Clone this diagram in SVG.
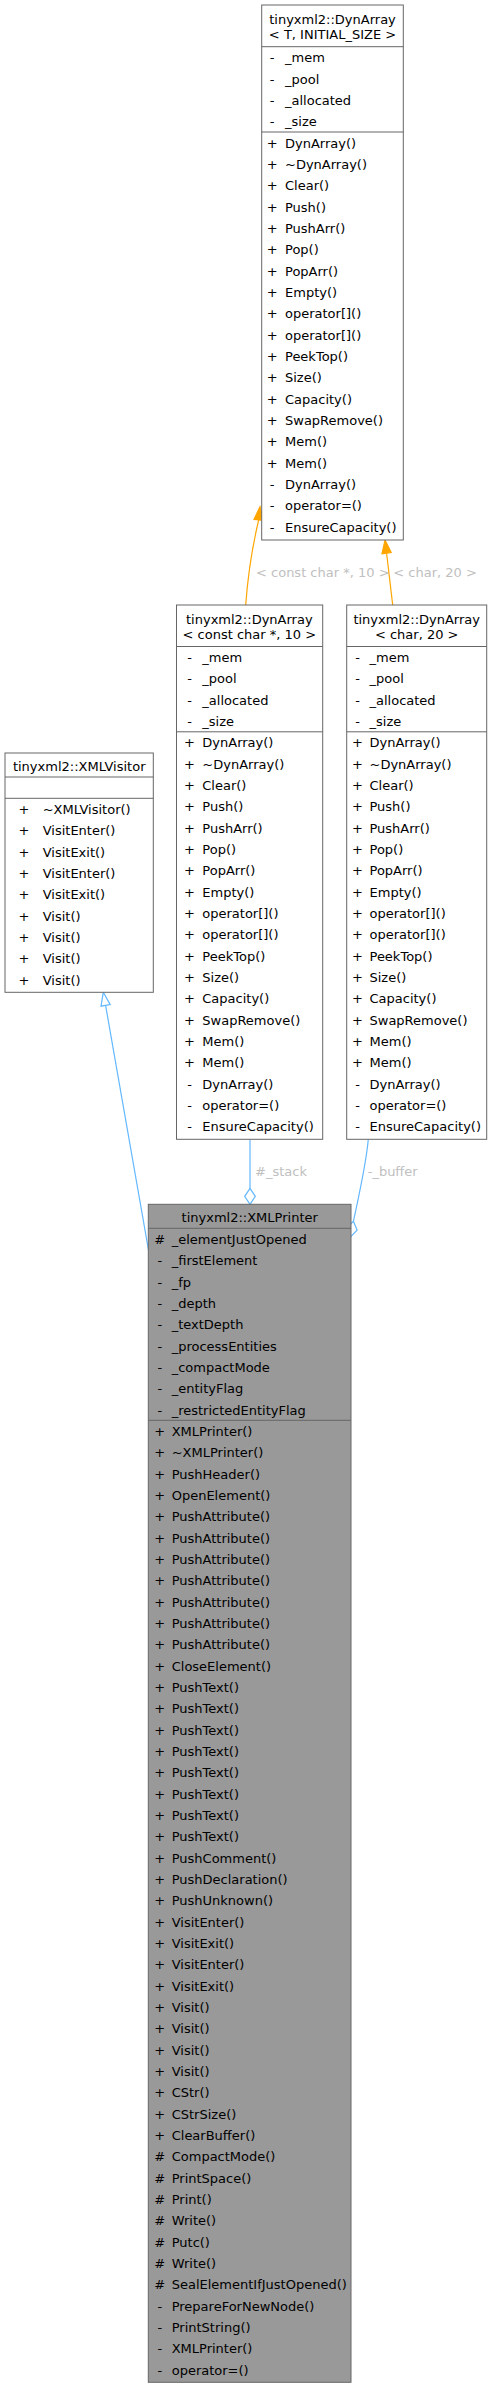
<svg xmlns="http://www.w3.org/2000/svg" width="492" height="2389" viewBox="0 0 492 2389">
<style>
text{font-family:"DejaVu Sans","Liberation Sans",sans-serif;font-size:13px;fill:#000}
.box{fill:#fff;stroke:#666;stroke-width:1}
.cur{fill:#999;stroke:#666;stroke-width:1}
.sep{stroke:#666;stroke-width:1}
.c{text-anchor:middle}
.blue{fill:none;stroke:#63b8ff;stroke-width:1.2}
.orng{fill:none;stroke:#ffa500;stroke-width:1.2}
.lbl{fill:#c0c0c0}
</style>
<rect width="492" height="2389" fill="#fff"/>
<g id="edges">
<path class="blue" d="M148.5,1250 L105.6,1005.4"/>
<polygon points="103.3,992.3 110.2,1004.6 101,1006.2" fill="#fff" stroke="#63b8ff" stroke-width="1.2"/>
<path class="blue" d="M250,1139.3 L250,1188.3"/>
<polygon points="250,1188.3 255.3,1196.3 250,1204.3 244.7,1196.3" fill="#fff" stroke="#63b8ff" stroke-width="1.2"/>
<text class="lbl" x="255" y="1176">#_stack</text>
<path class="blue" d="M368.3,1139.3 C366,1165 359,1195 353.4,1221.3"/>
<polygon points="353.4,1221.3 357.1,1230.1 350.5,1237 346.7,1228.2" fill="#fff" stroke="#63b8ff" stroke-width="1.2"/>
<text class="lbl" x="367.7" y="1176">-_buffer</text>
<path class="orng" d="M245.7,605 C247.5,580 252,548 258.7,519.9"/>
<polygon points="260,506.7 263.3,520.4 254,519.4" fill="#ffa500" stroke="#ffa500" stroke-width="1.2"/>
<text class="lbl" x="256" y="577">&lt; const char *, 10 &gt;</text>
<path class="orng" d="M392.7,605 L386.6,553.2"/>
<polygon points="385,540 391.2,552.6 382,553.8" fill="#ffa500" stroke="#ffa500" stroke-width="1.2"/>
<text class="lbl" x="393.3" y="577">&lt; char, 20 &gt;</text>
</g>
<g id="node_dynarray_T">
<rect class="box" x="261.7" y="5" width="141.6" height="535"/>
<line class="sep" x1="261.7" y1="46.7" x2="403.3" y2="46.7"/>
<line class="sep" x1="261.7" y1="132" x2="403.3" y2="132"/>
<text class="c" x="332.5" y="23.5">tinyxml2::DynArray</text>
<text class="c" x="332.5" y="39">&lt; T, INITIAL_SIZE &gt;</text>
<g class="c">
<text x="272.2" y="62.2">-</text><text x="272.2" y="83.5">-</text><text x="272.2" y="104.9">-</text><text x="272.2" y="126.2">-</text>
<text x="272.2" y="147.5">+</text><text x="272.2" y="168.8">+</text><text x="272.2" y="190.2">+</text><text x="272.2" y="211.5">+</text><text x="272.2" y="232.8">+</text><text x="272.2" y="254.2">+</text><text x="272.2" y="275.5">+</text><text x="272.2" y="296.8">+</text><text x="272.2" y="318.2">+</text><text x="272.2" y="339.5">+</text><text x="272.2" y="360.8">+</text><text x="272.2" y="382.2">+</text><text x="272.2" y="403.5">+</text><text x="272.2" y="424.8">+</text><text x="272.2" y="446.2">+</text><text x="272.2" y="467.5">+</text><text x="272.2" y="488.8">-</text><text x="272.2" y="510.2">-</text><text x="272.2" y="531.5">-</text>
</g>
<text x="285" y="62.2">_mem</text><text x="285" y="83.5">_pool</text><text x="285" y="104.9">_allocated</text><text x="285" y="126.2">_size</text>
<text x="285" y="147.5">DynArray()</text><text x="285" y="168.8">~DynArray()</text><text x="285" y="190.2">Clear()</text><text x="285" y="211.5">Push()</text><text x="285" y="232.8">PushArr()</text><text x="285" y="254.2">Pop()</text><text x="285" y="275.5">PopArr()</text><text x="285" y="296.8">Empty()</text><text x="285" y="318.2">operator[]()</text><text x="285" y="339.5">operator[]()</text><text x="285" y="360.8">PeekTop()</text><text x="285" y="382.2">Size()</text><text x="285" y="403.5">Capacity()</text><text x="285" y="424.8">SwapRemove()</text><text x="285" y="446.2">Mem()</text><text x="285" y="467.5">Mem()</text><text x="285" y="488.8">DynArray()</text><text x="285" y="510.2">operator=()</text><text x="285" y="531.5">EnsureCapacity()</text>
</g>
<g id="node_dynarray_constchar">
<rect class="box" x="176.5" y="605" width="146.2" height="534.3"/>
<line class="sep" x1="176.5" y1="646.5" x2="322.7" y2="646.5"/>
<line class="sep" x1="176.5" y1="731.8" x2="322.7" y2="731.8"/>
<text class="c" x="249.3" y="623.5">tinyxml2::DynArray</text>
<text class="c" x="249.3" y="639.3">&lt; const char *, 10 &gt;</text>
<g class="c">
<text x="189.5" y="662">-</text><text x="189.5" y="683.3">-</text><text x="189.5" y="704.7">-</text><text x="189.5" y="726">-</text>
<text x="189.5" y="747.3">+</text><text x="189.5" y="768.6">+</text><text x="189.5" y="790">+</text><text x="189.5" y="811.3">+</text><text x="189.5" y="832.6">+</text><text x="189.5" y="854">+</text><text x="189.5" y="875.3">+</text><text x="189.5" y="896.6">+</text><text x="189.5" y="918">+</text><text x="189.5" y="939.3">+</text><text x="189.5" y="960.6">+</text><text x="189.5" y="982">+</text><text x="189.5" y="1003.3">+</text><text x="189.5" y="1024.6">+</text><text x="189.5" y="1046">+</text><text x="189.5" y="1067.3">+</text><text x="189.5" y="1088.6">-</text><text x="189.5" y="1110">-</text><text x="189.5" y="1131.3">-</text>
</g>
<text x="202.3" y="662">_mem</text><text x="202.3" y="683.3">_pool</text><text x="202.3" y="704.7">_allocated</text><text x="202.3" y="726">_size</text>
<text x="202.3" y="747.3">DynArray()</text><text x="202.3" y="768.6">~DynArray()</text><text x="202.3" y="790">Clear()</text><text x="202.3" y="811.3">Push()</text><text x="202.3" y="832.6">PushArr()</text><text x="202.3" y="854">Pop()</text><text x="202.3" y="875.3">PopArr()</text><text x="202.3" y="896.6">Empty()</text><text x="202.3" y="918">operator[]()</text><text x="202.3" y="939.3">operator[]()</text><text x="202.3" y="960.6">PeekTop()</text><text x="202.3" y="982">Size()</text><text x="202.3" y="1003.3">Capacity()</text><text x="202.3" y="1024.6">SwapRemove()</text><text x="202.3" y="1046">Mem()</text><text x="202.3" y="1067.3">Mem()</text><text x="202.3" y="1088.6">DynArray()</text><text x="202.3" y="1110">operator=()</text><text x="202.3" y="1131.3">EnsureCapacity()</text>
</g>
<g id="node_dynarray_char">
<rect class="box" x="346.7" y="605" width="140" height="534.3"/>
<line class="sep" x1="346.7" y1="646.5" x2="486.7" y2="646.5"/>
<line class="sep" x1="346.7" y1="731.8" x2="486.7" y2="731.8"/>
<text class="c" x="416.7" y="623.5">tinyxml2::DynArray</text>
<text class="c" x="416.7" y="639.3">&lt; char, 20 &gt;</text>
<g class="c">
<text x="357.5" y="662">-</text><text x="357.5" y="683.3">-</text><text x="357.5" y="704.7">-</text><text x="357.5" y="726">-</text>
<text x="357.5" y="747.3">+</text><text x="357.5" y="768.6">+</text><text x="357.5" y="790">+</text><text x="357.5" y="811.3">+</text><text x="357.5" y="832.6">+</text><text x="357.5" y="854">+</text><text x="357.5" y="875.3">+</text><text x="357.5" y="896.6">+</text><text x="357.5" y="918">+</text><text x="357.5" y="939.3">+</text><text x="357.5" y="960.6">+</text><text x="357.5" y="982">+</text><text x="357.5" y="1003.3">+</text><text x="357.5" y="1024.6">+</text><text x="357.5" y="1046">+</text><text x="357.5" y="1067.3">+</text><text x="357.5" y="1088.6">-</text><text x="357.5" y="1110">-</text><text x="357.5" y="1131.3">-</text>
</g>
<text x="369.5" y="662">_mem</text><text x="369.5" y="683.3">_pool</text><text x="369.5" y="704.7">_allocated</text><text x="369.5" y="726">_size</text>
<text x="369.5" y="747.3">DynArray()</text><text x="369.5" y="768.6">~DynArray()</text><text x="369.5" y="790">Clear()</text><text x="369.5" y="811.3">Push()</text><text x="369.5" y="832.6">PushArr()</text><text x="369.5" y="854">Pop()</text><text x="369.5" y="875.3">PopArr()</text><text x="369.5" y="896.6">Empty()</text><text x="369.5" y="918">operator[]()</text><text x="369.5" y="939.3">operator[]()</text><text x="369.5" y="960.6">PeekTop()</text><text x="369.5" y="982">Size()</text><text x="369.5" y="1003.3">Capacity()</text><text x="369.5" y="1024.6">SwapRemove()</text><text x="369.5" y="1046">Mem()</text><text x="369.5" y="1067.3">Mem()</text><text x="369.5" y="1088.6">DynArray()</text><text x="369.5" y="1110">operator=()</text><text x="369.5" y="1131.3">EnsureCapacity()</text>
</g>
<g id="node_xmlvisitor">
<rect class="box" x="5" y="753" width="148.3" height="239.3"/>
<line class="sep" x1="5" y1="777" x2="153.3" y2="777"/>
<line class="sep" x1="5" y1="798.3" x2="153.3" y2="798.3"/>
<text class="c" x="79.2" y="770.8">tinyxml2::XMLVisitor</text>
<g class="c">
<text x="24" y="813.8">+</text><text x="24" y="835.1">+</text><text x="24" y="856.5">+</text><text x="24" y="877.8">+</text><text x="24" y="899.1">+</text><text x="24" y="920.5">+</text><text x="24" y="941.8">+</text><text x="24" y="963.1">+</text><text x="24" y="984.5">+</text>
</g>
<text x="42.7" y="813.8">~XMLVisitor()</text><text x="42.7" y="835.1">VisitEnter()</text><text x="42.7" y="856.5">VisitExit()</text><text x="42.7" y="877.8">VisitEnter()</text><text x="42.7" y="899.1">VisitExit()</text><text x="42.7" y="920.5">Visit()</text><text x="42.7" y="941.8">Visit()</text><text x="42.7" y="963.1">Visit()</text><text x="42.7" y="984.5">Visit()</text>
</g>
<g id="node_xmlprinter">
<rect class="cur" x="148.3" y="1204.3" width="202.7" height="1178"/>
<line class="sep" x1="148.3" y1="1228.3" x2="351" y2="1228.3"/>
<line class="sep" x1="148.3" y1="1420.3" x2="351" y2="1420.3"/>
<text class="c" x="249.7" y="1222.3">tinyxml2::XMLPrinter</text>
<g class="c">
<text x="159.8" y="1243.8">#</text><text x="159.8" y="1265.1">-</text><text x="159.8" y="1286.5">-</text><text x="159.8" y="1307.8">-</text><text x="159.8" y="1329.1">-</text><text x="159.8" y="1350.5">-</text><text x="159.8" y="1371.8">-</text><text x="159.8" y="1393.1">-</text><text x="159.8" y="1414.5">-</text>
<text x="159.8" y="1435.8">+</text><text x="159.8" y="1457.1">+</text><text x="159.8" y="1478.5">+</text><text x="159.8" y="1499.8">+</text><text x="159.8" y="1521.1">+</text><text x="159.8" y="1542.5">+</text><text x="159.8" y="1563.8">+</text><text x="159.8" y="1585.1">+</text><text x="159.8" y="1606.5">+</text><text x="159.8" y="1627.8">+</text><text x="159.8" y="1649.1">+</text><text x="159.8" y="1670.5">+</text><text x="159.8" y="1691.8">+</text><text x="159.8" y="1713.1">+</text><text x="159.8" y="1734.5">+</text><text x="159.8" y="1755.8">+</text><text x="159.8" y="1777.1">+</text><text x="159.8" y="1798.5">+</text><text x="159.8" y="1819.8">+</text><text x="159.8" y="1841.1">+</text><text x="159.8" y="1862.5">+</text><text x="159.8" y="1883.8">+</text><text x="159.8" y="1905.1">+</text><text x="159.8" y="1926.5">+</text><text x="159.8" y="1947.8">+</text><text x="159.8" y="1969.1">+</text><text x="159.8" y="1990.5">+</text><text x="159.8" y="2011.8">+</text><text x="159.8" y="2033.1">+</text><text x="159.8" y="2054.5">+</text><text x="159.8" y="2075.8">+</text><text x="159.8" y="2097.1">+</text><text x="159.8" y="2118.5">+</text><text x="159.8" y="2139.8">+</text><text x="159.8" y="2161.1">#</text><text x="159.8" y="2182.5">#</text><text x="159.8" y="2203.8">#</text><text x="159.8" y="2225.1">#</text><text x="159.8" y="2246.5">#</text><text x="159.8" y="2267.8">#</text><text x="159.8" y="2289.1">#</text><text x="159.8" y="2310.5">-</text><text x="159.8" y="2331.8">-</text><text x="159.8" y="2353.1">-</text><text x="159.8" y="2374.5">-</text>
</g>
<text x="171.7" y="1243.8">_elementJustOpened</text><text x="171.7" y="1265.1">_firstElement</text><text x="171.7" y="1286.5">_fp</text><text x="171.7" y="1307.8">_depth</text><text x="171.7" y="1329.1">_textDepth</text><text x="171.7" y="1350.5">_processEntities</text><text x="171.7" y="1371.8">_compactMode</text><text x="171.7" y="1393.1">_entityFlag</text><text x="171.7" y="1414.5">_restrictedEntityFlag</text>
<text x="171.7" y="1435.8">XMLPrinter()</text><text x="171.7" y="1457.1">~XMLPrinter()</text><text x="171.7" y="1478.5">PushHeader()</text><text x="171.7" y="1499.8">OpenElement()</text><text x="171.7" y="1521.1">PushAttribute()</text><text x="171.7" y="1542.5">PushAttribute()</text><text x="171.7" y="1563.8">PushAttribute()</text><text x="171.7" y="1585.1">PushAttribute()</text><text x="171.7" y="1606.5">PushAttribute()</text><text x="171.7" y="1627.8">PushAttribute()</text><text x="171.7" y="1649.1">PushAttribute()</text><text x="171.7" y="1670.5">CloseElement()</text><text x="171.7" y="1691.8">PushText()</text><text x="171.7" y="1713.1">PushText()</text><text x="171.7" y="1734.5">PushText()</text><text x="171.7" y="1755.8">PushText()</text><text x="171.7" y="1777.1">PushText()</text><text x="171.7" y="1798.5">PushText()</text><text x="171.7" y="1819.8">PushText()</text><text x="171.7" y="1841.1">PushText()</text><text x="171.7" y="1862.5">PushComment()</text><text x="171.7" y="1883.8">PushDeclaration()</text><text x="171.7" y="1905.1">PushUnknown()</text><text x="171.7" y="1926.5">VisitEnter()</text><text x="171.7" y="1947.8">VisitExit()</text><text x="171.7" y="1969.1">VisitEnter()</text><text x="171.7" y="1990.5">VisitExit()</text><text x="171.7" y="2011.8">Visit()</text><text x="171.7" y="2033.1">Visit()</text><text x="171.7" y="2054.5">Visit()</text><text x="171.7" y="2075.8">Visit()</text><text x="171.7" y="2097.1">CStr()</text><text x="171.7" y="2118.5">CStrSize()</text><text x="171.7" y="2139.8">ClearBuffer()</text><text x="171.7" y="2161.1">CompactMode()</text><text x="171.7" y="2182.5">PrintSpace()</text><text x="171.7" y="2203.8">Print()</text><text x="171.7" y="2225.1">Write()</text><text x="171.7" y="2246.5">Putc()</text><text x="171.7" y="2267.8">Write()</text><text x="171.7" y="2289.1">SealElementIfJustOpened()</text><text x="171.7" y="2310.5">PrepareForNewNode()</text><text x="171.7" y="2331.8">PrintString()</text><text x="171.7" y="2353.1">XMLPrinter()</text><text x="171.7" y="2374.5">operator=()</text>
</g>
</svg>
